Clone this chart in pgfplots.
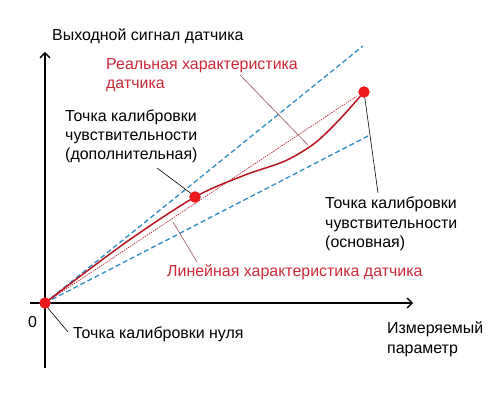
\documentclass[border=0pt]{standalone}
\usepackage{pgfplots}
\pgfplotsset{compat=1.18}
\usepackage{fontspec}
\setmainfont{Liberation Sans}
\usetikzlibrary{arrows.meta}
\definecolor{curvered}{RGB}{185,20,30}
\definecolor{dotred}{RGB}{235,25,30}
\definecolor{textred}{RGB}{205,40,55}
\definecolor{dashblue}{RGB}{45,140,195}
\definecolor{ptrbrown}{RGB}{150,85,95}
\newcommand{\tf}{\fontsize{16}{19}\selectfont}
\begin{document}
\begin{tikzpicture}[every node/.append style={font=\tf}]
\begin{axis}[
  scale only axis, width=383bp, height=316bp,
  xmin=-15, xmax=368, ymin=-65, ymax=251,
  enlargelimits=false,
  axis lines=middle,
  axis line style={black, line width=1.6pt, -{Straight Barb[length=5pt,width=10pt,line width=1.3pt]}},
  xtick=\empty, ytick=\empty,
  clip=false,
]
% bounding box of the whole picture
\path (axis cs:-45,-96) rectangle (axis cs:455,303);
% dashed limit lines
\addplot[dashblue, line width=1.3pt, dash pattern=on 5pt off 3pt] coordinates {(0,0) (318,257)};
\addplot[dashblue, line width=1.3pt, dash pattern=on 5pt off 3pt] coordinates {(0,0) (325,168)};
% linear characteristic
\addplot[curvered, line width=0.6pt, dash pattern=on 1.5pt off 1pt] coordinates {(0,0) (312,207)};
% real characteristic
\addplot[curvered, line width=1.5pt, smooth, tension=0.5] coordinates {
 (0,0) (80,60) (150,106) (200,128) (240,142) (270,160) (295,184) (319,211)};
% pointer lines
\addplot[ptrbrown, line width=0.6pt] coordinates {(195,228) (263,158)};
\addplot[ptrbrown, line width=0.6pt] coordinates {(128,81) (152,41)};
\addplot[black, line width=0.6pt] coordinates {(112,135) (148,108)};
\addplot[black, line width=0.6pt] coordinates {(319,211) (333,110)};
\addplot[black, line width=0.6pt] coordinates {(2,-4) (23,-29)};
% calibration points
\addplot[only marks, mark=*, mark size=5.5pt, dotred, mark options={draw=dotred, fill=dotred}] coordinates {(0,0) (150,106) (319,211)};
% texts
\node[font=\tf, inner sep=0pt, anchor=base west] at (axis cs:7,262) {Выходной сигнал датчика};
\node[font=\tf, inner sep=0pt, anchor=base west, textred] at (axis cs:61,233) {Реальная характеристика};
\node[font=\tf, inner sep=0pt, anchor=base west, textred] at (axis cs:61,214) {датчика};
\node[font=\tf, inner sep=0pt, anchor=base west] at (axis cs:20,181) {Точка калибровки};
\node[font=\tf, inner sep=0pt, anchor=base west] at (axis cs:20,162) {чувствительности};
\node[font=\tf, inner sep=0pt, anchor=base west] at (axis cs:20,143) {(дополнительная)};
\node[font=\tf, inner sep=0pt, anchor=base west] at (axis cs:280,94) {Точка калибровки};
\node[font=\tf, inner sep=0pt, anchor=base west] at (axis cs:280,74) {чувствительности};
\node[font=\tf, inner sep=0pt, anchor=base west] at (axis cs:280,55) {(основная)};
\node[font=\tf, inner sep=0pt, anchor=base west, textred] at (axis cs:122,26) {Линейная характеристика датчика};
\node[font=\tf, inner sep=0pt, anchor=base west] at (axis cs:-17,-25) {0};
\node[font=\tf, inner sep=0pt, anchor=base west] at (axis cs:28,-35) {Точка калибровки нуля};
\node[font=\tf, inner sep=0pt, anchor=base west] at (axis cs:342,-31) {Измеряемый};
\node[font=\tf, inner sep=0pt, anchor=base west] at (axis cs:342,-50) {параметр};
\end{axis}
\end{tikzpicture}
\end{document}
